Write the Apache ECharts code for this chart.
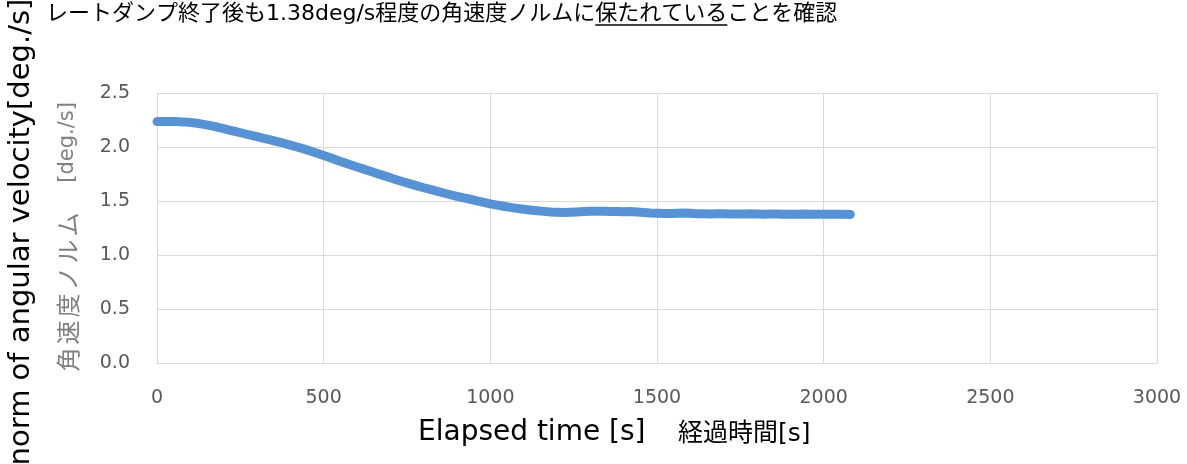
<!DOCTYPE html>
<html>
<head>
<meta charset="utf-8">
<script src="https://cdn.jsdelivr.net/npm/echarts@6/dist/echarts.min.js"></script>
<style>
html,body{margin:0;padding:0;background:#fff;}
#chart{width:1187px;height:464px;}
</style>
</head>
<body>
<div id="chart"></div>
<script>
// ---- data ----
var times = [0,20,40,60,80,100,120,140,160,180,200,220,240,260,280,300,320,340,360,380,
  400,420,440,460,480,500,520,540,560,580,600,620,640,660,680,700,720,740,760,780,
  800,820,840,860,880,900,920,940,960,980,1000,1020,1040,1060,1080,1100,1120,1140,1160,1180,
  1200,1220,1240,1260,1280,1300,1320,1340,1360,1380,1400,1420,1440,1460,1480,1500,1520,1540,1560,1580,
  1600,1620,1640,1660,1680,1700,1720,1740,1760,1780,1800,1820,1840,1860,1880,1900,1920,1940,1960,1980,
  2000,2020,2040,2060,2080];
var omegaNorm = [2.235,2.235,2.235,2.235,2.232,2.228,2.22,2.21,2.198,2.185,2.17,2.155,2.14,2.125,2.11,2.095,2.08,2.065,2.05,2.035,
  2.018,2.0,1.982,1.963,1.943,1.922,1.9,1.878,1.856,1.835,1.815,1.795,1.775,1.755,1.735,1.715,1.695,1.676,1.658,1.64,
  1.623,1.607,1.59,1.574,1.558,1.543,1.529,1.516,1.502,1.488,1.474,1.462,1.451,1.441,1.432,1.424,1.417,1.41,1.404,1.399,
  1.396,1.394,1.396,1.399,1.402,1.404,1.405,1.404,1.403,1.402,1.401,1.402,1.399,1.394,1.389,1.386,1.384,1.385,1.387,1.389,
  1.386,1.383,1.381,1.38,1.381,1.382,1.38,1.379,1.38,1.381,1.379,1.378,1.379,1.38,1.378,1.377,1.378,1.379,1.377,1.378,
  1.378,1.377,1.378,1.377,1.376];
var xTicks = [0,500,1000,1500,2000,2500,3000];
var yTicks = ['0.0','0.5','1.0','1.5','2.0','2.5'];
var titleText = 'レートダンプ終了後も1.38deg/s程度の角速度ノルムに';
var titleUnderlined = '保たれている';
var titleTail = 'ことを確認';
var outerYLabel = 'norm of angular velocity[deg./s]';
var innerYLabelJa = '角速度ノルム';
var innerYLabelUnit = '[deg./s]';
var xLabelEn = 'Elapsed time [s]';
var xLabelJa = '経過時間[s]';

var pts = times.map(function(t,i){return [t, omegaNorm[i]];});
var FONT = '"DejaVu Sans","Noto Sans CJK JP",sans-serif';
var JFONT = '"Noto Sans CJK JP","DejaVu Sans",sans-serif';

// measure text widths for title segment placement
var mctx = document.createElement('canvas').getContext('2d');
var titleFont = '22px ' + FONT;
mctx.font = titleFont;
var tx0 = 46;
var w1 = mctx.measureText(titleText).width;
var w2 = mctx.measureText(titleUnderlined).width;
var tx1 = tx0 + w1, tx2 = tx1 + w2;

// inner y label: JP chars spread like the original
var innerGraphics = [];
var jaChars = innerYLabelJa.split('');
var jaBottom = 373, jaStep = 27;
jaChars.forEach(function(c, i){
  innerGraphics.push({type:'text', x:68, y:jaBottom - jaStep*(i+0.5), rotation:Math.PI/2,
    style:{text:c, fill:'#808080', font:'24px '+JFONT, align:'center', verticalAlign:'middle'}});
});
innerGraphics.push({type:'text', x:68, y:102, rotation:Math.PI/2,
  style:{text:innerYLabelUnit, fill:'#808080', font:'21px '+FONT, align:'right', verticalAlign:'middle'}});

var chart = echarts.init(document.getElementById('chart'), null, {renderer:'canvas'});
chart.setOption({
  animation:false,
  backgroundColor:'#fff',
  grid:{left:157, right:30, top:93, bottom:101, containLabel:false},
  xAxis:{
    type:'value', min:0, max:3000, interval:500,
    axisLine:{show:true, lineStyle:{color:'#d9d9d9', width:1}},
    axisTick:{show:false},
    splitLine:{show:true, lineStyle:{color:'#d9d9d9', width:1}},
    axisLabel:{color:'#595959', fontSize:19, fontFamily:FONT, margin:26,
      formatter:function(v){return xTicks.indexOf(v)>=0 ? String(v) : '';}}
  },
  yAxis:{
    type:'value', min:0, max:2.5, interval:0.5,
    axisLine:{show:true, lineStyle:{color:'#d9d9d9', width:1}},
    axisTick:{show:false},
    splitLine:{show:true, lineStyle:{color:'#d9d9d9', width:1}},
    axisLabel:{color:'#595959', fontSize:19, fontFamily:FONT, margin:27,
      formatter:function(v){var i=Math.round(v/0.5); return yTicks[i]||'';}}
  },
  series:[{
    type:'line', data:pts, showSymbol:false, smooth:false,
    lineStyle:{color:'#5793d4', width:9, cap:'round', join:'round'},
    itemStyle:{color:'#5793d4'}
  }],
  graphic:[
    {type:'text', x:tx0, y:14, style:{text:titleText, fill:'#000', font:titleFont, verticalAlign:'middle'}},
    {type:'text', x:tx1, y:14, style:{text:titleUnderlined, fill:'#000', font:titleFont, verticalAlign:'middle'}},
    {type:'text', x:tx2, y:14, style:{text:titleTail, fill:'#000', font:titleFont, verticalAlign:'middle'}},
    {type:'line', shape:{x1:tx1, y1:25, x2:tx2, y2:25}, style:{stroke:'#000', lineWidth:1.5}},
    {type:'text', x:21, y:232, rotation:Math.PI/2, style:{text:outerYLabel, fill:'#000', font:'29px '+FONT, align:'center', verticalAlign:'middle'}},
    {type:'text', x:418, y:433, style:{text:xLabelEn, fill:'#000', font:'28px '+FONT, align:'left', verticalAlign:'middle'}},
    {type:'text', x:678, y:434, style:{text:xLabelJa, fill:'#000', font:'25px '+FONT, align:'left', verticalAlign:'middle'}}
  ].concat(innerGraphics)
});
</script>
</body>
</html>
